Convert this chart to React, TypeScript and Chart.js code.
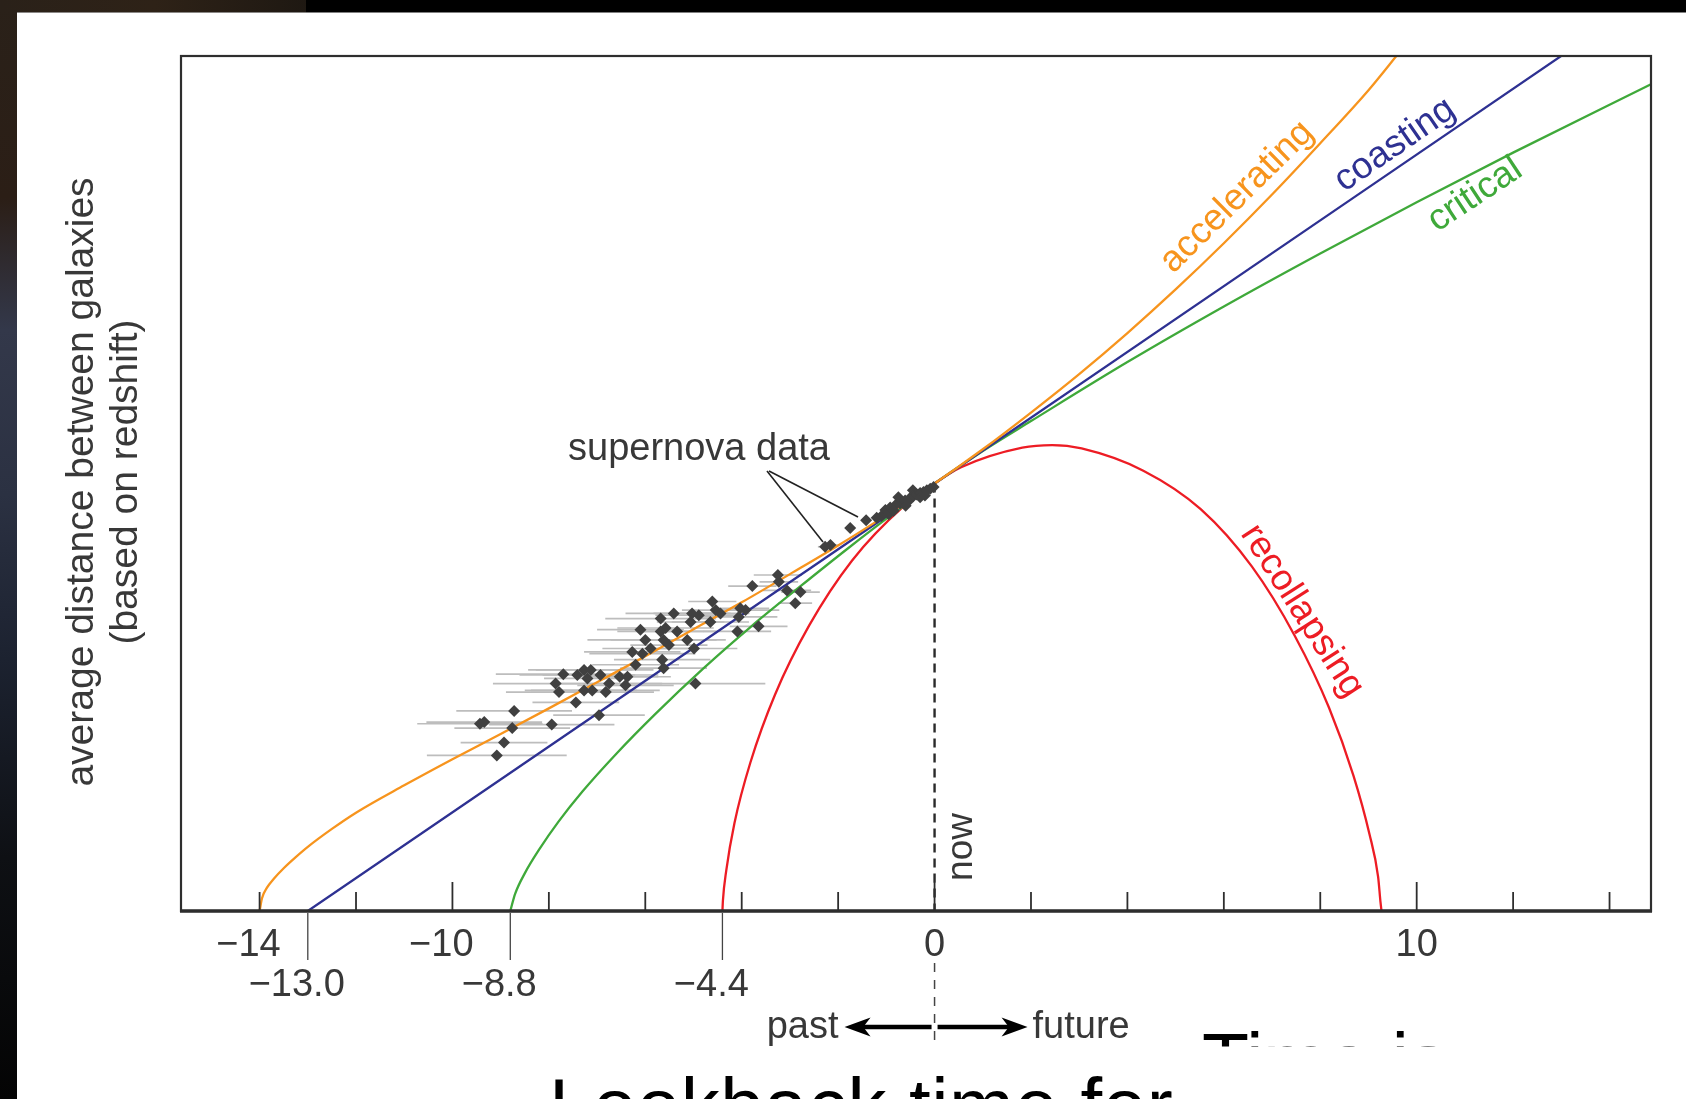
import React, { useEffect, useRef } from "react";
import { Chart, registerables } from "chart.js";

Chart.register(...registerables);

const W = 1686;
const H = 1099;

// ---- axis ----
const X_MIN = -15.63;
const X_MAX = 14.86;
const Y_MIN = 0;
const Y_MAX = 10;
const TIME_TICKS = [-14, -12, -10, -8, -6, -4, -2, 0, 2, 4, 6, 8, 10, 12, 14];
const MAJOR_TICKS = [-10, 0, 10];
const TOP_LABEL_TICKS = [-14, -10, 0, 10];
const BIG_BANG_TICKS = [-13.0, -8.8, -4.4];
const BIG_BANG_LABELS = ["\u221213.0", "\u22128.8", "\u22124.4"];
const NOW_T = 0;
const NOW_D = 5;

// ---- model curves (time in billions of years, relative distance) ----
const ACCEL_T = [-14, -13.95, -13.85, -13.7, -13.5, -13.25, -13, -12.5, -12, -11, -10, -9, -8, -7, -6, -5, -4, -3, -2, -1, 0, 1, 2, 3, 4, 5, 6, 7, 8, 9, 9.65];
const ACCEL_D = [0, 0.15, 0.27, 0.38, 0.5, 0.63, 0.75, 0.96, 1.15, 1.47, 1.775, 2.07, 2.37, 2.675, 2.98, 3.295, 3.61, 3.94, 4.275, 4.63, 5, 5.4, 5.83, 6.28, 6.76, 7.27, 7.81, 8.38, 8.98, 9.6, 10.05];

const COAST_T = [-13, 0, 13.1];
const COAST_D = [0, 5, 10.04];

const CRIT_T = [-8.8, -8.7, -8.5, -8.2, -7.8, -7.3, -6.6, -5.8, -4.8, -3.8, -2.8, -1.8, -0.9, 0, 1, 2, 4, 6, 8, 10, 12, 14.86];
const CRIT_D = [0, 0.2, 0.44, 0.72, 1.045, 1.4, 1.84, 2.3, 2.835, 3.33, 3.79, 4.24, 4.63, 5, 5.38, 5.73, 6.42, 7.07, 7.69, 8.29, 8.87, 9.67];

const RECOL_T = [-4.4, -4.39, -4.32, -4.15, -3.82, -3.31, -2.6, -1.71, -0.65, 0, 0.55, 1.82, 2.44, 3.05, 4.33, 5.52, 6.58, 7.47, 8.18, 8.69, 9.02, 9.2, 9.25, 9.27];
const RECOL_D = [0, 0.12, 0.476, 1.03, 1.737, 2.53, 3.34, 4.1, 4.73, 5.0, 5.19, 5.42, 5.45, 5.41, 5.15, 4.7, 4.03, 3.22, 2.38, 1.58, 0.9, 0.4, 0.1, 0];

// ---- supernova data ----
const SN_T = [
  -9.43, -9.34, -8.72, -8.76, -8.93, -9.08, -7.94, -7.44, -6.96, -7.86,
  -7.79, -7.7, -7.41, -7.27, -7.13, -7.2, -7.27, -7.1, -6.93, -6.82,
  -6.75, -6.53, -6.41, -6.37, -6.2, -6.27, -6.1, -6.0, -5.89, -6.06,
  -5.68, -5.58, -5.68, -5.62, -5.51, -5.41, -5.34, -5.65, -5.62, -5.13,
  -4.99, -5.03, -4.89, -5.06, -4.96, -4.61, -4.54, -4.65, -4.44, -4.03,
  -3.92, -4.06, -4.09, -3.65, -3.78, -3.25, -3.23, -3.06, -2.78, -2.89,
  -2.27, -2.16, -1.75, -1.42, -1.1, -1.02, -0.95, -0.92, -0.81, -0.75,
  -0.71, -0.61, -0.6, -0.51, -0.45, -0.44, -0.37, -0.3, -0.3, -0.23,
  -0.16, -0.09, -0.02, -1.2, -0.85, -0.55, -0.2,
];
const SN_D = [
  2.19, 2.21, 2.34, 2.14, 1.97, 1.82, 2.18, 2.44, 2.29, 2.66,
  2.56, 2.77, 2.76, 2.82, 2.82, 2.72, 2.58, 2.58, 2.76, 2.56,
  2.66, 2.74, 2.64, 2.74, 2.88, 3.03, 3.29, 3.17, 3.07, 3.01,
  3.42, 3.31, 3.27, 3.17, 3.11, 3.48, 3.27, 2.94, 2.84, 3.17,
  3.07, 3.48, 3.46, 3.38, 2.66, 3.62, 3.52, 3.38, 3.48, 3.54,
  3.52, 3.44, 3.27, 3.33, 3.8, 3.93, 3.85, 3.75, 3.73, 3.6,
  4.26, 4.28, 4.48, 4.57, 4.62, 4.69, 4.64, 4.72, 4.75, 4.84,
  4.77, 4.8, 4.74, 4.83, 4.92, 4.85, 4.87, 4.89, 4.84, 4.9,
  4.92, 4.94, 4.96, 4.6, 4.68, 4.79, 4.86,
];
const SN_ERR = [
  1.3, 1.2, 1.2, 1.2, 0.9, 1.45, 1.3, 0.9, 0.95, 1.3,
  1.1, 1.4, 1.2, 1.0, 1.3, 0.9, 1.1, 1.4, 1.2, 1.0,
  1.1, 0.8, 1.0, 0.9, 0.9, 1.0, 0.9, 1.2, 1.0, 1.1,
  1.15, 1.0, 0.9, 1.1, 0.8, 1.0, 0.8, 1.0, 0.9, 0.8,
  0.9, 0.8, 0.9, 0.7, 1.45, 0.5, 0.7, 0.8, 0.6, 0.6,
  0.7, 0.8, 0.7, 0.6, 0.5, 0.5, 0.4, 0.5, 0.4, 0.35,
  0.15, 0.15, 0.1, 0.1, 0, 0, 0, 0, 0, 0,
  0, 0, 0, 0, 0, 0, 0, 0, 0, 0,
  0, 0, 0, 0, 0, 0, 0,
];

const pts = (t: number[], d: number[]) => t.map((v, i) => ({ x: v, y: d[i] }));

const FONT = '"Liberation Sans", Arial, Helvetica, sans-serif';
const TEXT = "#383838";
const ORANGE = "#f7941d";
const BLUE = "#2e3192";
const GREEN = "#3fa93a";
const RED = "#ed1c24";

function rtext(ctx: CanvasRenderingContext2D, s: string, cx: number, cy: number, deg: number, color: string, size: number, baseline: CanvasTextBaseline = "middle") {
  ctx.save();
  ctx.translate(cx, cy);
  ctx.rotate((deg * Math.PI) / 180);
  ctx.fillStyle = color;
  ctx.font = `${size}px ${FONT}`;
  ctx.textAlign = "center";
  ctx.textBaseline = baseline;
  ctx.fillText(s, 0, 0);
  ctx.restore();
}

function seg(ctx: CanvasRenderingContext2D, x0: number, y0: number, x1: number, y1: number) {
  ctx.beginPath();
  ctx.moveTo(x0, y0);
  ctx.lineTo(x1, y1);
  ctx.stroke();
}

function arrow(ctx: CanvasRenderingContext2D, x0: number, x1: number, yy: number) {
  const dir = Math.sign(x1 - x0);
  const hl = 26;
  const hw = 9.5;
  ctx.lineWidth = 4.6;
  seg(ctx, x0, yy, x1 - dir * hl * 0.7, yy);
  ctx.beginPath();
  ctx.moveTo(x1, yy);
  ctx.lineTo(x1 - dir * hl, yy - hw);
  ctx.lineTo(x1 - dir * hl * 0.72, yy);
  ctx.lineTo(x1 - dir * hl, yy + hw);
  ctx.closePath();
  ctx.fill();
}

const backgroundPlugin = {
  id: "bg",
  beforeDraw(chart: any) {
    const ctx: CanvasRenderingContext2D = chart.ctx;
    ctx.save();
    ctx.fillStyle = "#000";
    ctx.fillRect(0, 0, W, H);
    const g = ctx.createLinearGradient(0, 0, 0, H);
    g.addColorStop(0, "#2a2119");
    g.addColorStop(0.18, "#2b1e16");
    g.addColorStop(0.3, "#33384a");
    g.addColorStop(0.45, "#2b3142");
    g.addColorStop(0.6, "#1c2230");
    g.addColorStop(0.78, "#0e1014");
    g.addColorStop(1, "#040404");
    ctx.fillStyle = g;
    ctx.fillRect(0, 0, 17, H);
    const g2 = ctx.createLinearGradient(0, 0, 310, 0);
    g2.addColorStop(0, "#2a2119");
    g2.addColorStop(0.5, "#2e2217");
    g2.addColorStop(1, "#1e1812");
    ctx.fillStyle = g2;
    ctx.fillRect(0, 0, 306, 12.5);
    ctx.fillStyle = "#ffffff";
    ctx.fillRect(17, 12.5, W - 17, H - 12.5);
    ctx.restore();
  },
};

const underPlugin = {
  id: "under",
  beforeDatasetsDraw(chart: any) {
    const ctx: CanvasRenderingContext2D = chart.ctx;
    const x = chart.scales.x;
    const y = chart.scales.y;
    const a = chart.chartArea;
    ctx.save();
    // error bars
    ctx.strokeStyle = "#bdbdbd";
    ctx.lineWidth = 1.7;
    SN_T.forEach((t, i) => {
      const e = SN_ERR[i];
      if (!e) return;
      const py = y.getPixelForValue(SN_D[i]);
      seg(ctx, x.getPixelForValue(t - e), py, x.getPixelForValue(t + e), py);
    });
    // "now" dashed line
    const nx = x.getPixelForValue(NOW_T);
    ctx.strokeStyle = "#2a2a2a";
    ctx.lineWidth = 2.4;
    ctx.setLineDash([9, 6]);
    seg(ctx, nx, y.getPixelForValue(NOW_D), nx, a.bottom);
    ctx.restore();
  },
};

const overlayPlugin = {
  id: "overlay",
  afterDatasetsDraw(chart: any) {
    const ctx: CanvasRenderingContext2D = chart.ctx;
    const x = chart.scales.x;
    const a = chart.chartArea;
    ctx.save();
    // frame
    ctx.strokeStyle = "#2e2e2e";
    ctx.lineWidth = 2.2;
    ctx.strokeRect(a.left, a.top, a.right - a.left, a.bottom - a.top);
    ctx.lineWidth = 3.4;
    seg(ctx, a.left - 1, a.bottom, a.right + 1, a.bottom);
    // ticks
    ctx.lineWidth = 1.8;
    TIME_TICKS.forEach((t) => {
      const px = x.getPixelForValue(t);
      const len = MAJOR_TICKS.includes(t) ? 29 : 19;
      seg(ctx, px, a.bottom, px, a.bottom - len);
    });
    ctx.strokeStyle = "#444";
    ctx.lineWidth = 1.3;
    BIG_BANG_TICKS.forEach((t) => {
      const px = x.getPixelForValue(t);
      seg(ctx, px, a.bottom + 2, px, a.bottom + 49);
    });
    // tick labels
    ctx.fillStyle = TEXT;
    ctx.font = `38px ${FONT}`;
    ctx.textAlign = "center";
    ctx.textBaseline = "middle";
    const minusW = ctx.measureText("\u2212").width;
    TOP_LABEL_TICKS.forEach((t) => {
      const px = x.getPixelForValue(t);
      const s = t < 0 ? "\u2212" + Math.abs(t) : String(t);
      ctx.fillText(s, t < 0 ? px - minusW / 2 : px, a.bottom + 35);
    });
    BIG_BANG_TICKS.forEach((t, i) => {
      const px = x.getPixelForValue(t);
      ctx.fillText(BIG_BANG_LABELS[i], px - minusW / 2, a.bottom + 75);
    });
    // dashed now line below axis
    const nx = x.getPixelForValue(NOW_T);
    ctx.strokeStyle = "#444";
    ctx.lineWidth = 1.5;
    ctx.setLineDash([9, 8]);
    seg(ctx, nx, a.bottom + 52, nx, a.bottom + 131);
    ctx.setLineDash([]);
    // past / future arrows
    ctx.fillStyle = "#000";
    ctx.strokeStyle = "#000";
    const ay = a.bottom + 116;
    arrow(ctx, nx - 3, nx - 90, ay);
    arrow(ctx, nx + 3, nx + 93, ay);
    ctx.fillStyle = TEXT;
    ctx.font = `38px ${FONT}`;
    ctx.textBaseline = "alphabetic";
    ctx.textAlign = "right";
    ctx.fillText("past", nx - 96, ay + 11);
    ctx.textAlign = "left";
    ctx.fillText("future", nx + 98, ay + 11);
    // now
    rtext(ctx, "now", nx + 37, 847, -90, TEXT, 37, "alphabetic");
    // supernova label + leaders
    ctx.fillStyle = TEXT;
    ctx.font = `38px ${FONT}`;
    ctx.textAlign = "center";
    ctx.textBaseline = "alphabetic";
    ctx.fillText("supernova data", 699, 460);
    ctx.strokeStyle = "#222";
    ctx.lineWidth = 1.6;
    seg(ctx, 767, 471, 823, 542);
    seg(ctx, 769, 471, 858, 517);
    // curve labels
    rtext(ctx, "accelerating", 1237, 197, -44.6, ORANGE, 37);
    rtext(ctx, "coasting", 1395, 145, -34.5, BLUE, 37);
    rtext(ctx, "critical", 1475, 195, -33.5, GREEN, 37);
    rtext(ctx, "recollapsing", 1302, 611, 57.3, RED, 37);
    // y axis title
    rtext(ctx, "average distance between galaxies", 93, 482, -90, TEXT, 39, "alphabetic");
    rtext(ctx, "(based on redshift)", 137, 482, -90, TEXT, 39, "alphabetic");
    // slide text overflowing at the bottom
    ctx.save();
    ctx.beginPath();
    ctx.rect(1150, 1000, 400, 46.5);
    ctx.clip();
    ctx.fillStyle = "#000";
    ctx.font = `77px ${FONT}`;
    ctx.textAlign = "left";
    ctx.textBaseline = "alphabetic";
    ctx.fillText("Time is", 1202, 1088);
    ctx.restore();
    ctx.fillStyle = "#000";
    ctx.font = `78px ${FONT}`;
    ctx.textAlign = "left";
    ctx.textBaseline = "alphabetic";
    (ctx as any).letterSpacing = "0.5px";
    ctx.fillText("Lookback time for", 549, 1133);
    (ctx as any).letterSpacing = "0px";
    ctx.restore();
  },
};

export default function App() {
  const ref = useRef<HTMLCanvasElement>(null);
  useEffect(() => {
    const canvas = ref.current;
    if (!canvas) return;
    const lineDs = (label: string, t: number[], d: number[], color: string, order: number) => ({
      type: "line" as const,
      label,
      data: pts(t, d),
      borderColor: color,
      backgroundColor: color,
      borderWidth: 2.3,
      pointRadius: 0,
      showLine: true,
      fill: false,
      cubicInterpolationMode: "monotone" as const,
      order,
    });
    const chart = new Chart(canvas, {
      type: "scatter",
      data: {
        datasets: [
          {
            label: "supernova data",
            data: pts(SN_T, SN_D),
            pointStyle: "rectRot",
            pointRadius: 6,
            backgroundColor: "#404040",
            borderColor: "#404040",
            borderWidth: 0,
            order: 0,
          } as any,
          lineDs("accelerating", ACCEL_T, ACCEL_D, ORANGE, 1),
          lineDs("coasting", COAST_T, COAST_D, BLUE, 2),
          lineDs("critical", CRIT_T, CRIT_D, GREEN, 3),
          lineDs("recollapsing", RECOL_T, RECOL_D, RED, 4),
        ],
      },
      options: {
        responsive: false,
        maintainAspectRatio: false,
        animation: false,
        devicePixelRatio: 1,
        events: [],
        layout: { padding: { left: 181, top: 56, right: W - 1651, bottom: H - 911 } },
        scales: {
          x: { type: "linear", min: X_MIN, max: X_MAX, display: false },
          y: { type: "linear", min: Y_MIN, max: Y_MAX, display: false },
        },
        plugins: {
          legend: { display: false },
          tooltip: { enabled: false },
          title: { display: false },
        },
      },
      plugins: [backgroundPlugin, underPlugin, overlayPlugin],
    } as any);
    return () => chart.destroy();
  }, []);
  return (
    <div style={{ position: "fixed", left: 0, top: 0, width: W, height: H, background: "#000", overflow: "hidden" }}>
      <canvas ref={ref} width={W} height={H} style={{ display: "block", width: W, height: H }} />
    </div>
  );
}
